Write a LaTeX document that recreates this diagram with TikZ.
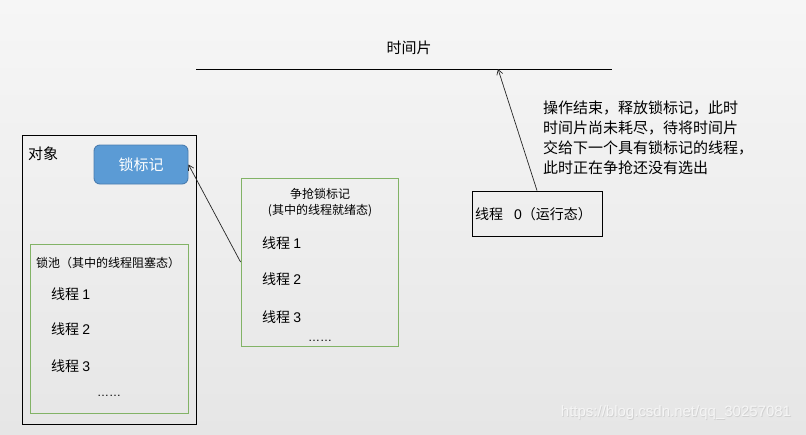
\documentclass[tikz,border=0pt]{standalone}
\usepackage{fontspec}
\setmainfont{Noto Sans CJK SC}
\newfontfamily\latinfont{Liberation Sans}
\usetikzlibrary{arrows.meta}
\definecolor{bgtop}{HTML}{F6F6F6}
\definecolor{bgbot}{HTML}{E6E6E6}
\definecolor{lockfill}{HTML}{5B9BD5}
\definecolor{lockdraw}{HTML}{4A7DB0}
\definecolor{greenline}{HTML}{82B366}
\tikzset{
  blackbox/.style={draw=black, line width=0.9pt, inner sep=0pt},
  greenbox/.style={draw=greenline, line width=0.9pt, inner sep=0pt},
  txt/.style={inner sep=0pt, anchor=west, font=\fontsize{14}{16}\selectfont},
  smalltxt/.style={inner sep=0pt, font=\fontsize{12}{14}\selectfont},
  bigtxt/.style={inner sep=0pt, font=\fontsize{15}{17}\selectfont},
  conn/.style={draw=black!85, line width=0.7pt, -{Straight Barb[length=5pt,width=6pt]}},
}
\begin{document}
\begin{tikzpicture}[x=1pt,y=-1pt]
\shade[top color=bgtop, bottom color=bgbot] (0,0) rectangle (806,434);
\useasboundingbox (0,0) rectangle (806,434);

% time slice
\node[bigtxt] (ts) at (409,48) {时间片};
\coordinate (tsl) at (196,69);
\coordinate (tsr) at (612,69);
\draw[line width=0.9pt] (tsl) -- (tsr);
\coordinate (tshit) at (498,69);

% object
\node[blackbox, minimum width=174pt, minimum height=289pt] (obj) at (109,279.5) {};
\node[bigtxt, anchor=west] (objlbl) at (28,154) {对象};
\node[draw=lockdraw, fill=lockfill, line width=0.9pt, rounded corners=6pt,
      minimum width=94pt, minimum height=39pt, inner sep=0pt,
      text=white, font=\fontsize{15}{17}\selectfont] (lock) at (141,164.5) {锁标记};

% lock pool
\node[greenbox, minimum width=158pt, minimum height=169pt] (pool) at (109,328.5) {};
\node[smalltxt, anchor=west] (poollbl) at (36,263) {锁池（其中的线程阻塞态）};
\node[txt] (p1) at (51,294) {线程 {\latinfont 1}};
\node[txt] (p2) at (51,329) {线程 {\latinfont 2}};
\node[txt] (p3) at (51,366) {线程 {\latinfont 3}};
\node[smalltxt] (pdots) at (109,396) {\latinfont ……};

% competing
\node[greenbox, minimum width=157pt, minimum height=168pt] (comp) at (319.5,262) {};
\node[smalltxt] (complbl1) at (320,194) {争抢锁标记};
\node[smalltxt] (complbl2) at (320,211) {(其中的线程就绪态)};
\node[txt] (c1) at (262,243) {线程 {\latinfont 1}};
\node[txt] (c2) at (262,279) {线程 {\latinfont 2}};
\node[txt] (c3) at (262,317) {线程 {\latinfont 3}};
\node[smalltxt] (cdots) at (320,341) {\latinfont ……};

% thread 0
\node[blackbox, minimum width=130pt, minimum height=45pt] (t0) at (537,213.5) {};
\node[txt] (t0lbl) at (475,214) {线程 {\latinfont\ \ 0}（运行态）};

% annotation
\node[bigtxt, anchor=north west, align=left, font=\fontsize{15}{20}\selectfont] (note) at (543,101)
  {操作结束，释放锁标记，此时\\时间片尚未耗尽，待将时间片\\交给下一个具有锁标记的线程，\\此时正在争抢还没有选出};

% connectors
\draw[conn] (comp.west) -- (lock.east);
\draw[conn] (t0.north) -- (tshit);

% watermark
\node[inner sep=0pt, text=black!18, font=\latinfont\fontsize{15}{17}\selectfont] (wm2) at (676.8,413.8) {https://blog.csdn.net/qq\_30257081};
\node[inner sep=0pt, text=white!96!black, font=\latinfont\fontsize{15}{17}\selectfont] (wm) at (676,413) {https://blog.csdn.net/qq\_30257081};
\end{tikzpicture}
\end{document}
